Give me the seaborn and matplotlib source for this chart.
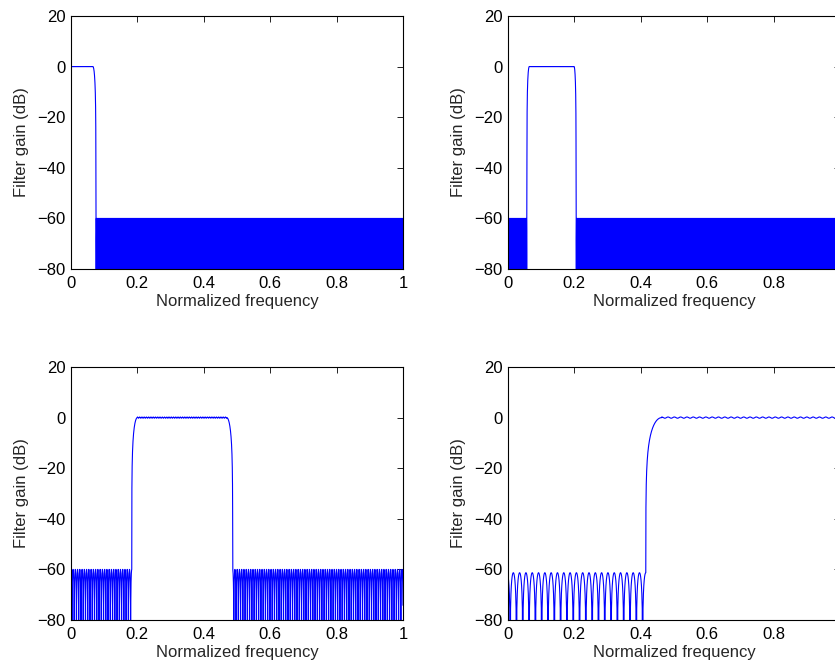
import numpy as np
import pandas as pd
import matplotlib
matplotlib.use("Agg")
import matplotlib.pyplot as plt
import seaborn as sns

# ---- data (band edges in normalized frequency) ----
edges_lowpass = [0.0, 0.066, 0.075, 1.0]
types_lowpass = ["pass", "fall", "stop"]

edges_band1 = [0.0, 0.057, 0.064, 0.199, 0.205, 1.0]
types_band1 = ["stop", "rise", "pass", "fall", "stop"]

edges_band2 = [0.0, 0.183, 0.200, 0.469, 0.487, 1.0]
types_band2 = ["stop", "rise", "pass", "fall", "stop"]

edges_highpass = [0.0, 0.415, 0.463, 1.0]
types_highpass = ["stop", "rise", "pass"]

stop_levels_db = [-60.0, -60.0, -60.0, -61.3]
lobe_widths = [0.0015, 0.0015, 0.0068, 0.019]
pass_ripple_db = [0.03, 0.03, 0.25, 0.25]

x_ticks = [0, 0.2, 0.4, 0.6, 0.8, 1]
x_tick_labels = ["0", "0.2", "0.4", "0.6", "0.8", "1"]
y_ticks = [-80, -60, -40, -20, 0, 20]
x_label = "Normalized frequency"
y_label = "Filter gain (dB)"


def build_response(edges, types, level, width, ripple):
    fs, gs = [], []
    floor_amp = 10 ** (level / 20.0)
    n = len(types)
    for i, kind in enumerate(types):
        a, b = edges[i], edges[i + 1]
        if kind == "stop":
            # anchor lobe peaks at the edge that touches a transition band
            if i + 1 < n and types[i + 1] in ("rise", "fall"):
                anchor = b
            else:
                anchor = a
            step = width / 16.0
            k0 = int(np.floor((a - anchor) / step))
            k1 = int(np.ceil((b - anchor) / step))
            f = anchor + step * np.arange(k0, k1 + 1)
            f = f[(f >= a - 1e-12) & (f <= b + 1e-12)]
            c = np.abs(np.cos(np.pi * (f - anchor) / width))
            g = level + 20 * np.log10(np.maximum(c, 1e-8))
        elif kind == "pass":
            f = np.linspace(a, b, max(int((b - a) / width * 16), 50))
            g = ripple * np.cos(2 * np.pi * (f - a) / width)
        else:
            f = np.linspace(a, b, 200)
            t = (f - a) / (b - a)
            if kind == "fall":
                t = 1 - t
            amp = floor_amp + (1 - floor_amp) * np.sin(np.pi / 2 * t)
            g = 20 * np.log10(amp)
        fs.append(f)
        gs.append(g)
    return np.concatenate(fs), np.concatenate(gs)


sns.set_style("white")
plt.rcParams["font.family"] = ["Liberation Sans", "DejaVu Sans"]
plt.rcParams["font.size"] = 12

fig = plt.figure(figsize=(8.35, 6.68), dpi=100)

W = 332 / 835
H = 253 / 668
positions = [
    [71 / 835, 1 - 269 / 668, W, H],
    [508 / 835, 1 - 269 / 668, W, H],
    [71 / 835, 1 - 620 / 668, W, H],
    [508 / 835, 1 - 620 / 668, W, H],
]
panel_edges = [edges_lowpass, edges_band1, edges_band2, edges_highpass]
panel_types = [types_lowpass, types_band1, types_band2, types_highpass]

for i in range(4):
    ax = fig.add_axes(positions[i])
    f, g = build_response(panel_edges[i], panel_types[i], stop_levels_db[i],
                          lobe_widths[i], pass_ripple_db[i])
    df = pd.DataFrame({"freq": f, "gain": g})
    sns.lineplot(data=df, x="freq", y="gain", ax=ax, color="#0000ff",
                 linewidth=0.8, estimator=None, errorbar=None, sort=False)
    ax.set_xlim(0, 1)
    ax.set_ylim(-80, 20)
    ax.set_xticks(x_ticks)
    ax.set_xticklabels(x_tick_labels)
    ax.set_yticks(y_ticks)
    ax.set_xlabel(x_label, fontsize=12, labelpad=2)
    ax.set_ylabel(y_label, fontsize=12, labelpad=6)
    ax.tick_params(axis="x", pad=5)
    ax.tick_params(axis="y", pad=4)
    ax.tick_params(direction="in", length=4.5, width=0.6, top=True, right=True,
                   labelsize=12, colors="black")
    for s in ax.spines.values():
        s.set_visible(True)
        s.set_color("black")
        s.set_linewidth(0.8)

fig.savefig("out.png", dpi=100)
